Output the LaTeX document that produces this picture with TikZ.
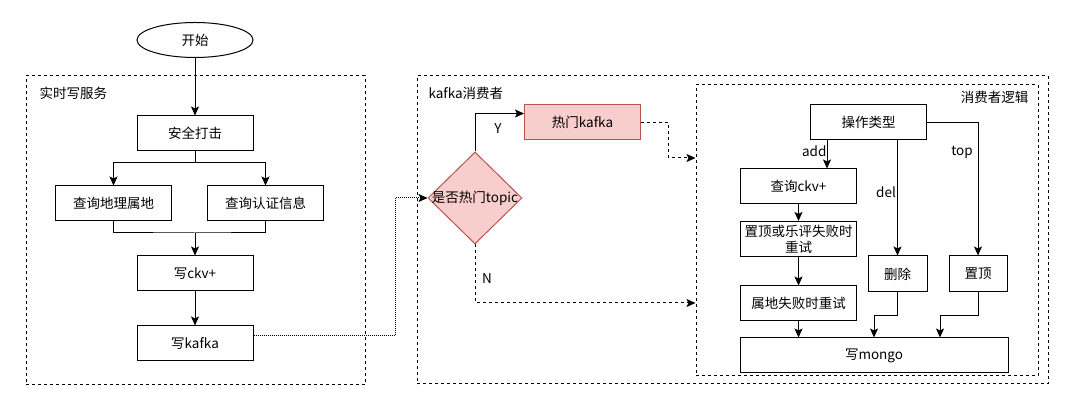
\documentclass[tikz,border=0pt]{standalone}
\usepackage{fontspec}
\newfontfamily\cjkfont{Noto Sans CJK SC}
\usetikzlibrary{arrows.meta,shapes.geometric}
\definecolor{hotfill}{HTML}{F8CECC}
\definecolor{hotdraw}{HTML}{B85450}

\begin{document}
\begin{tikzpicture}[x=1pt,y=-1pt,
  font=\cjkfont\fontsize{13.5}{17}\selectfont,
  line/.style={draw=black,line width=1pt},
  arr/.style={line,-{Stealth[length=9pt,width=8pt,inset=2pt]}},
  darr/.style={arr,dash pattern=on 3pt off 3pt},
  dotarr/.style={arr,densely dotted},
  box/.style={draw=black,line width=1pt,rectangle,minimum width=116pt,minimum height=35pt,inner sep=1pt},
  group/.style={draw=black,line width=1pt,dash pattern=on 3pt off 3pt,rectangle,inner sep=0pt},
  hot/.style={fill=hotfill,draw=hotdraw}]

\useasboundingbox (0,0) rectangle (1080,411);

% The dashed groups and their titles
% Draw these first so the boxes sit on top
\node[group,minimum width=339pt,minimum height=309pt] (service) at (195.5,230.5) {};
\node[group,minimum width=631pt,minimum height=308pt] (consumer) at (732.5,230) {};
\node[group,minimum width=342pt,minimum height=291pt] (logic) at (867,230.5) {};
\node[anchor=west] (servicetitle) at (36,93) {实时写服务};
\node[anchor=west] (consumertitle) at (425,93) {kafka消费者};
\node[anchor=east] (logictitle) at (1032,97) {消费者逻辑};

% The realtime write service
\node[draw=black,line width=1pt,ellipse,minimum width=116pt,minimum height=35pt] (start) at (195,40) {开始};
\node[box] (attack) at (195,133.5) {安全打击};
\node[box] (geo) at (113.5,203.5) {查询地理属地};
\node[box] (auth) at (265.5,203.5) {查询认证信息};
\node[box] (ckv) at (195,273.5) {写ckv+};
\node[box] (kafka) at (195,343.5) {写kafka};

\coordinate (split) at (195,163);
\coordinate (merge) at (195,233);
\draw[arr] (start) -- (attack);
\draw[line] (attack.south) -- (split);
\draw[arr] (split) -| (geo.north);
\draw[arr] (split) -| (auth.north);
\draw[line] (geo.south) |- (merge) -| (auth.south);
\draw[arr] (merge) -- (ckv.north);
\draw[arr] (ckv) -- (kafka);

% The kafka consumer: hot topic test
\node[diamond,hot,line width=1pt,minimum width=94pt,minimum height=92pt,inner sep=0pt,
  label={center:是否热门topic}] (topic) at (475,198) {};
\node[box,hot] (hotkafka) at (582.5,122.5) {热门kafka};

\draw[dotarr] ([yshift=8pt]kafka.east) -- ++(142,0) |- (topic.west);
\draw[arr] (topic.north) |- ([yshift=9pt]hotkafka.west);
\node (yes) at (498,129) {Y};
\draw[darr] (hotkafka.east) -- ++(27,0) |- ([yshift=72.5pt]logic.west);
\draw[darr] (topic.south) |- ([yshift=-72.5pt]logic.west);
\node (no) at (487,279) {N};

% The consumer logic
\node[box] (optype) at (868.5,122.5) {操作类型};
\node[box] (qckv) at (798.5,186.5) {查询ckv+};
\node[box,align=center,font=\cjkfont\fontsize{13.5}{16}\selectfont] (retrytop) at (798.5,239) {置顶或乐评失败时\\重试};
\node[box] (retrygeo) at (798.5,303.5) {属地失败时重试};
\node[box,minimum width=59pt,minimum height=36pt] (del) at (897.5,274) {删除};
\node[box,minimum width=58pt,minimum height=36pt] (settop) at (978,274) {置顶};
\node[box,minimum width=268pt] (mongo) at (874,355.5) {写mongo};

\draw[arr] ([xshift=-41.5pt]optype.south) -- ([xshift=-41.5pt]optype.south |- qckv.north);
\node[anchor=east] (addlabel) at (830,151) {add};
\draw[arr] (del.north |- optype.south) -- (del.north);
\node (dellabel) at (886,192) {del};
\draw[arr] (optype.east) -| (settop.north);
\node (toplabel) at (962,152) {top};

\draw[arr] (qckv) -- (retrytop);
\draw[arr] (retrytop) -- (retrygeo);
\draw[arr] (retrygeo) -- (retrygeo.south |- mongo.north);
\draw[arr] (del.south) -- ++(0,23) -| (mongo.north);
\draw[arr] (settop.south) -- ++(0,23) -| ([xshift=66pt]mongo.north);

\end{tikzpicture}
\end{document}
